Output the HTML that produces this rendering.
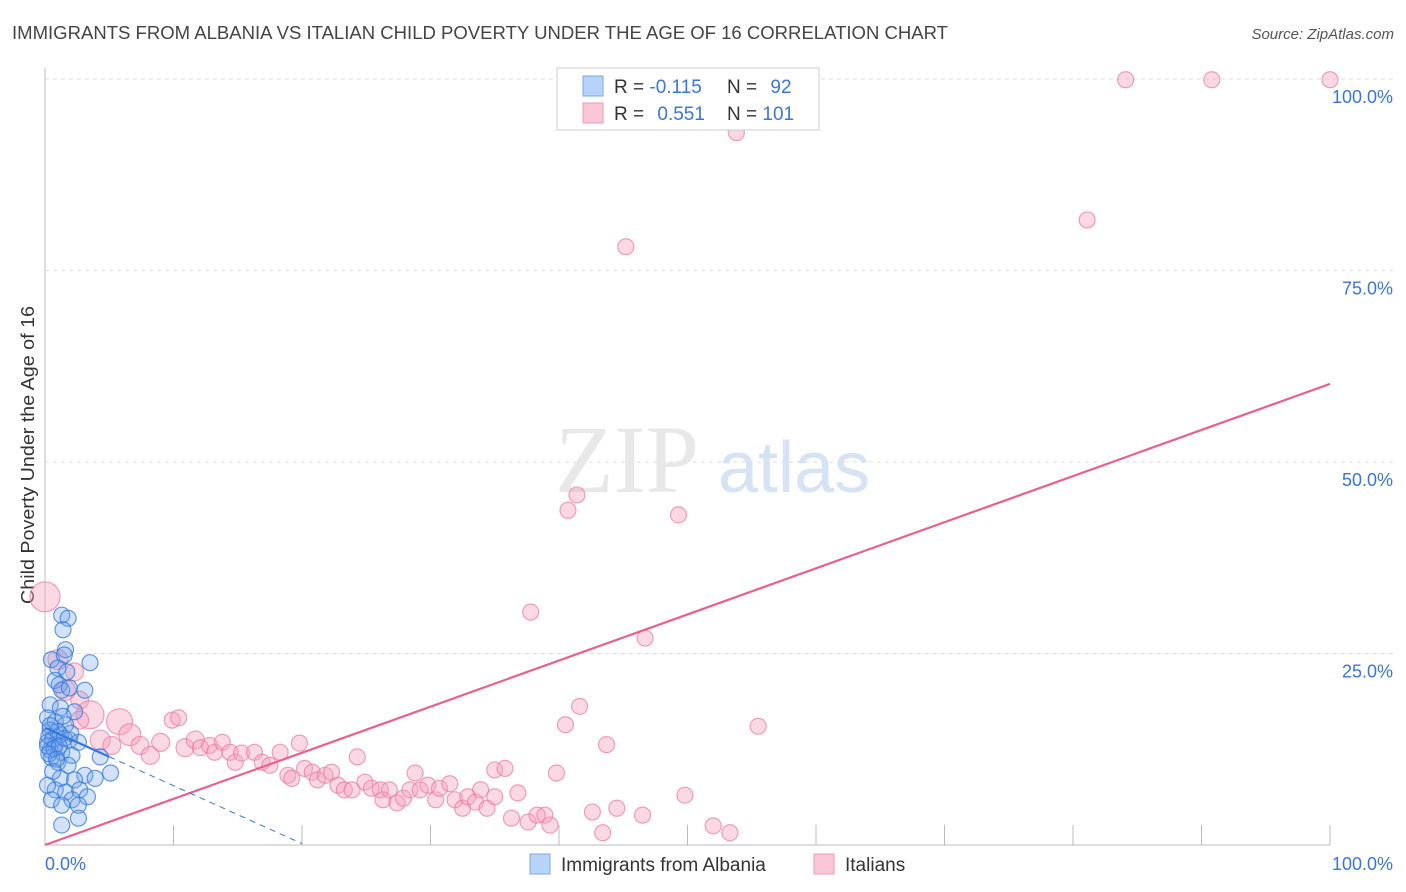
<!DOCTYPE html>
<html><head><meta charset="utf-8"><style>
body{margin:0;background:#fff;font-family:"Liberation Sans",sans-serif;}
#c{position:absolute;left:0;top:0;width:1406px;height:892px;}
</style></head><body>
<svg id="c" width="1406" height="892" xmlns="http://www.w3.org/2000/svg">
<text x="12" y="39" font-size="18" fill="#444" textLength="936" lengthAdjust="spacingAndGlyphs">IMMIGRANTS FROM ALBANIA VS ITALIAN CHILD POVERTY UNDER THE AGE OF 16 CORRELATION CHART</text>
<text x="1394" y="39" font-size="15" fill="#555" text-anchor="end" font-style="italic">Source: ZipAtlas.com</text>
<text transform="translate(34,455) rotate(-90)" font-size="18" fill="#333" text-anchor="middle" textLength="298" lengthAdjust="spacingAndGlyphs">Child Poverty Under the Age of 16</text>
<g id="grid"></g>
<text x="555" y="492" font-size="96" fill="#e8e8e8" font-family="Liberation Serif,serif">ZIP</text>
<text x="718" y="492" font-size="72" fill="#d5e3f5">atlas</text>
<g id="marks"></g>
<g>
<rect x="557" y="68" width="262" height="62" fill="#fff" stroke="#ccc"/>
<rect x="583" y="76" width="20" height="20" fill="#b8d3f8" stroke="#7aa8e8"/>
<rect x="583" y="103" width="20" height="20" fill="#fbc6d6" stroke="#f09ab5"/>
<text x="614" y="93" font-size="19" fill="#333">R = <tspan fill="#3a75d8">-0.115</tspan></text>
<text x="727" y="93" font-size="19" fill="#333">N = <tspan fill="#3a75d8" dx="8">92</tspan></text>
<text x="614" y="120" font-size="19" fill="#333">R = <tspan fill="#3a75d8" dx="8">0.551</tspan></text>
<text x="727" y="120" font-size="19" fill="#333">N = <tspan fill="#3a75d8">101</tspan></text>
</g>
<g>
<rect x="530" y="854" width="20" height="20" fill="#b8d3f8" stroke="#7aa8e8"/>
<text x="561" y="871" font-size="19" fill="#333">Immigrants from Albania</text>
<rect x="814" y="854" width="20" height="20" fill="#fbc6d6" stroke="#f09ab5"/>
<text x="845" y="871" font-size="19" fill="#333">Italians</text>
</g>
</svg>
<script>
const yTicks=[25,50,75,100];
const yTickLabels=["25.0%","50.0%","75.0%","100.0%"];
const xTicks=[0,10,20,30,40,50,60,70,80,90,100];
const xEndLabels=["0.0%","100.0%"];
const pinkX=[0,1,1.6,2.3,2.7,3.5,2.7,4.3,5.8,5.2,6.6,7.4,8.2,9,9.9,10.4,10.9,11.7,12.1,12.8,13.2,13.8,14.4,14.8,15.3,16.3,16.9,17.5,18.3,18.9,19.2,19.8,20.2,20.8,21.2,21.8,22.3,22.8,23.3,23.9,24.3,24.9,25.4,26.1,26.3,26.8,27.4,27.9,28.4,28.8,29.2,29.8,30.4,30.7,31.5,31.9,32.5,32.9,33.5,33.9,34.4,35,35,35.8,36.3,36.8,37.6,38.3,38.9,39.3,39.8,40.5,40.7,41.4,41.6,42.6,43.4,43.7,44.5,45.2,46.5,46.7,49.3,49.8,52,53.3,53.8,55.5,81.1,84.1,90.8,100,37.8];
const pinkY=[32.4,24.2,20.2,22.6,18.9,17,16.3,13.7,16.1,13,14.4,13,11.7,13.4,16.3,16.6,12.7,13.7,12.7,13,12.1,13.4,12.1,10.8,12,12.1,10.8,10.4,12.1,9.1,8.7,13.3,10,9.5,8.5,9.1,9.5,7.8,7.2,7.2,11.5,8.2,7.4,7.2,5.9,7.2,5.5,6.1,7.2,9.4,7.2,7.8,5.9,7.4,8,5.9,4.8,6.3,5.6,7.2,4.8,6.3,9.8,10,3.5,6.8,3,3.9,3.9,2.6,9.4,15.7,43.7,45.7,18.1,4.3,1.6,13.1,4.8,78.1,3.9,27,43.1,6.5,2.5,1.6,93,15.5,81.6,99.9,99.9,99.9,30.4];
const pinkR=[15,10,10,9,9,14,9,10,13,9,11,9,9,9,8,8,9,9,8,8,8,8,8,8,8,8,8,8,8,8,8,8,8,8,8,8,8,8,8,8,8,8,8,8,8,8,8,8,8,8,8,8,8,8,8,8,8,8,8,8,8,8,8,8,8,8,8,8,8,8,8,8,8,8,8,8,8,8,8,8,8,8,8,8,8,8,8,8,8,8,8,8,8];
const blueX=[1.3,1.8,1.4,0.5,1.6,1.5,3.5,1,1.7,0.8,1.1,1.3,1.9,3.1,0.4,1.2,2.3,0.2,0.8,1.6,0.4,1.2,1.9,0.2,0.8,2.6,0.4,1.3,2.1,4.3,0.5,1,1.8,5.1,3.1,1.2,2.3,3.9,0.8,1.6,2.7,2.1,0.5,3.3,1.3,2.6,2.6,1.3,0.3,0.6,1.0,0.2,0.7,1.5,0.4,1.1,0.3,0.9,2.0,1.4,0.6,0.2];
const blueY=[30,29.6,28.1,24.2,25.5,24.8,23.8,23.1,22.6,21.5,20.9,20.2,20.5,20.2,18.3,17.9,17.4,16.6,16.1,15.7,15,14.4,13.7,13.4,13.1,13.4,12.4,12.1,11.7,11.5,11.4,10.8,10.4,9.4,9.1,8.7,8.5,8.7,7.2,6.9,7.2,5.9,5.9,6.3,5.2,5.2,3.5,2.6,14.2,13.8,14.8,12.9,12.6,13.9,15.6,12.9,11.9,11.2,14.6,16.8,9.6,7.8];
const pinkLine=[0,60.2];
const blueLine=[15.3,-0.27];
const X=v=>45+v*12.85, Y=v=>845-v*7.66;
const NS="http://www.w3.org/2000/svg";
const grid=document.getElementById('grid'), marks=document.getElementById('marks');
function mk(tag,at,parent){const e=document.createElementNS(NS,tag);for(const k in at)e.setAttribute(k,at[k]);parent.appendChild(e);return e;}
let ax=mk('line',{x1:45,y1:68,x2:45,y2:845,stroke:'#bbb'},grid);


let bx=mk('line',{x1:45,y1:845,x2:1330,y2:845,stroke:'#bbb'},grid);


yTicks.forEach((t,i)=>{
 let g=mk('line',{x1:45,y1:Y(t),x2:1395,y2:Y(t),stroke:'#ddd','stroke-dasharray':'4,4'},grid);
 
 
 let l=mk('text',{x:1393,y:Y(t)+24,'font-size':18,fill:'#3a75d8','text-anchor':'end'},grid);
 l.textContent=yTickLabels[i];
 
 
});
xTicks.forEach(t=>{
 let k=mk('line',{x1:X(t),y1:825,x2:X(t),y2:845,stroke:'#bbb'},grid);
 
 
});
let xl0=mk('text',{x:45,y:870,'font-size':18,fill:'#3a75d8'},grid);xl0.textContent=xEndLabels[0];


let xl1=mk('text',{x:1393,y:870,'font-size':18,fill:'#3a75d8','text-anchor':'end'},grid);xl1.textContent=xEndLabels[1];


pinkX.forEach((x,i)=>{
 let c=mk('circle',{cx:X(x),cy:Y(pinkY[i]),r:pinkR[i]||8,fill:'rgba(246,160,188,0.4)',stroke:'rgba(236,120,160,0.7)','stroke-width':1.2},marks);
 
 
});
blueX.forEach((x,i)=>{
 let c=mk('circle',{cx:X(x),cy:Y(blueY[i]),r:8,fill:'rgba(110,160,235,0.3)',stroke:'rgba(50,120,220,0.75)','stroke-width':1.2},marks);
 
 
});
let pl=mk('line',{x1:X(0),y1:Y(pinkLine[0]),x2:X(100),y2:Y(pinkLine[0]+pinkLine[1]),stroke:'#e8608f','stroke-width':2.2},marks);


let b1=mk('line',{x1:X(0),y1:Y(blueLine[0]),x2:X(5),y2:Y(blueLine[0]+blueLine[1]*5*2.8),stroke:'#3a75d8','stroke-width':2.2},marks);


let b2=mk('line',{x1:X(5),y1:Y(blueLine[0]+blueLine[1]*5*2.8),x2:X(20),y2:Y(blueLine[0]+blueLine[1]*20*2.8),stroke:'#3a75d8','stroke-width':1,'stroke-dasharray':'6,5'},marks);


</script>
</body></html>
